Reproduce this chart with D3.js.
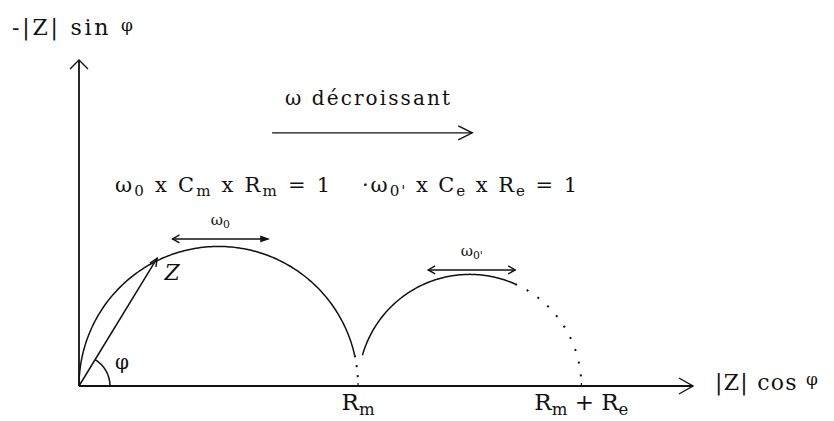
<!DOCTYPE html>
<html>
<head>
<meta charset="utf-8">
<script src="https://cdn.jsdelivr.net/npm/d3@7"></script>
<style>
  body { margin: 0; background: #fff; }
  text { font-family: "DejaVu Serif", "Liberation Serif", serif; fill: #111; }
</style>
</head>
<body>
<svg id="chart" width="834" height="421"></svg>
<script>
// values, in units of Rm
var Rm = 1,
	Re = 0.8;

var xTickValues = [Rm, Rm + Re];
var xTickLabels = [
	[["R"], ["m", "sub"]],
	[["R"], ["m", "sub"], [" + R"], ["e", "sub"]]
];

// semicircles: centre, radius, solid part and dotted part (degrees)
var arcCentres = [Rm / 2, Rm + Re / 2];
var arcRadii = [Rm / 2, Re / 2];
var arcSolid = [[180, 12.7], [164, 66]];
var arcDotted = [[12.7, 0], [66, 0]];

// ω0 markers on top of each arc
var omegaFrom = [0.335, 1.251];
var omegaTo = [0.677, 1.563];
var omegaHeight = [0.527, 0.416];
var omegaLabels = [[["ω"], ["0", "sub"]], [["ω"], ["0'", "sub"]]];

// impedance vector Z
var zPoint = [0.28, 0.458];

// "ω décroissant" arrow
var sweepFrom = 0.692,
	sweepTo = 1.409,
	sweepHeight = 0.907;

var eq1 = [["ω"], ["0", "sub"], [" x C"], ["m", "sub"], [" x R"], ["m", "sub"], [" = 1"]];
var eq2 = [["·ω"], ["0'", "sub"], [" x C"], ["e", "sub"], [" x R"], ["e", "sub"], [" = 1"]];

var svg = d3.select("#chart");

var x = d3.scaleLinear().domain([0, 2.2]).range([79, 693]);
var y = d3.scaleLinear().domain([0, 1.18]).range([386, 386 - 1.18 * 279.1]);

function arrowHead(g, tx, ty, angle, len, half, filled) {
	var c = Math.cos(angle), s = Math.sin(angle);
	var bx = tx - c * len, by = ty - s * len;
	var p = d3.path();
	p.moveTo(bx - s * half, by + c * half);
	p.lineTo(tx, ty);
	p.lineTo(bx + s * half, by - c * half);
	if (filled) p.closePath();
	g.append("path")
		.attr("d", p.toString())
		.attr("fill", filled ? "#111" : "none")
		.attr("stroke", "#111")
		.attr("stroke-width", 1.4);
}

function richText(g, segs, px, py, size, anchor, len) {
	var t = g.append("text")
		.attr("x", px)
		.attr("y", py)
		.attr("font-size", size)
		.attr("text-anchor", anchor || "start");
	if (len) t.attr("textLength", len).attr("lengthAdjust", "spacing");
	var shift = 0;
	segs.forEach(function (s) {
		var target = s[1] === "sub" ? Math.round(size * 0.2) : 0;
		var ts = t.append("tspan")
			.attr("dy", target - shift)
			.text(s[0]);
		if (s[1] === "sub") ts.attr("font-size", size * 0.72);
		shift = target;
	});
	return t;
}

// axes
svg.append("line")
	.attr("x1", x(0)).attr("y1", y(0))
	.attr("x2", x(2.2)).attr("y2", y(0))
	.attr("stroke", "#111").attr("stroke-width", 1.8);
arrowHead(svg, x(2.2), y(0), 0, 14, 8, false);

svg.append("line")
	.attr("x1", x(0)).attr("y1", y(0))
	.attr("x2", x(0)).attr("y2", y(1.168))
	.attr("stroke", "#111").attr("stroke-width", 1.8);
arrowHead(svg, x(0), y(1.168), -Math.PI / 2, 9, 9, false);

// semicircles
var line = d3.line()
	.x(function (d) { return x(d[0]); })
	.y(function (d) { return y(d[1]); });

function arcPoints(i, range) {
	var a0 = range[0], a1 = range[1];
	var n = Math.max(2, Math.ceil(Math.abs(a0 - a1)));
	return d3.range(n + 1).map(function (k) {
		var a = (a0 + (a1 - a0) * k / n) * Math.PI / 180;
		return [arcCentres[i] + arcRadii[i] * Math.cos(a), arcRadii[i] * Math.sin(a)];
	});
}

arcCentres.forEach(function (c, i) {
	svg.append("path")
		.attr("d", line(arcPoints(i, arcSolid[i])))
		.attr("fill", "none")
		.attr("stroke", "#111")
		.attr("stroke-width", 1.5);
	svg.append("path")
		.attr("d", line(arcPoints(i, arcDotted[i])))
		.attr("fill", "none")
		.attr("stroke", "#111")
		.attr("stroke-width", 2)
		.attr("stroke-dasharray", i === 0 ? "2 8" : "2 11");
});

// ω0 markers
omegaFrom.forEach(function (f, i) {
	svg.append("line")
		.attr("x1", x(f)).attr("y1", y(omegaHeight[i]))
		.attr("x2", x(omegaTo[i])).attr("y2", y(omegaHeight[i]))
		.attr("stroke", "#111").attr("stroke-width", 1.5);
	arrowHead(svg, x(f), y(omegaHeight[i]), Math.PI, 7, 4, false);
	arrowHead(svg, x(omegaTo[i]), y(omegaHeight[i]), 0, 7, i === 0 ? 2.5 : 4, i === 0);
	richText(svg, omegaLabels[i], x((f + omegaTo[i]) / 2), y(omegaHeight[i]) - 14, 15, "middle");
});

// impedance vector
svg.append("line")
	.attr("x1", x(0)).attr("y1", y(0))
	.attr("x2", x(zPoint[0])).attr("y2", y(zPoint[1]))
	.attr("stroke", "#111").attr("stroke-width", 1.5);
var zAngle = Math.atan2(y(zPoint[1]) - y(0), x(zPoint[0]) - x(0));
arrowHead(svg, x(zPoint[0]), y(zPoint[1]), zAngle, 8, 3.5, false);

svg.append("text")
	.attr("x", x(zPoint[0]) + 15)
	.attr("y", y(zPoint[1]) + 22)
	.attr("font-size", 22)
	.attr("font-style", "italic")
	.attr("text-anchor", "middle")
	.text("Z");

// angle φ
var phiArc = d3.arc()
	.innerRadius(31)
	.outerRadius(31)
	.startAngle(Math.PI / 2 + zAngle)
	.endAngle(Math.PI / 2);
svg.append("path")
	.attr("transform", "translate(" + x(0) + "," + y(0) + ")")
	.attr("d", phiArc())
	.attr("fill", "none")
	.attr("stroke", "#111")
	.attr("stroke-width", 1.5);
svg.append("text")
	.attr("x", x(0) + 43)
	.attr("y", y(0) - 17)
	.attr("font-size", 20)
	.attr("text-anchor", "middle")
	.text("φ");

// x tick labels
xTickValues.forEach(function (v, i) {
	svg.append("line")
		.attr("x1", x(v)).attr("y1", y(0))
		.attr("x2", x(v)).attr("y2", y(0) - 3)
		.attr("stroke", "#111").attr("stroke-width", 1.2);
	richText(svg, xTickLabels[i], x(v), y(0) + 24, 23, "middle");
});

// axis titles
var yTitle = svg.append("text")
	.attr("x", 12).attr("y", 35)
	.attr("font-size", 22)
	.attr("textLength", 121).attr("lengthAdjust", "spacing");
yTitle.append("tspan").text("-|Z| sin ");
yTitle.append("tspan").attr("font-size", 17).attr("dy", -4).text("φ");

var xTitle = svg.append("text")
	.attr("x", 715).attr("y", 390)
	.attr("font-size", 22)
	.attr("textLength", 103).attr("lengthAdjust", "spacing");
xTitle.append("tspan").text("|Z| cos ");
xTitle.append("tspan").attr("font-size", 17).attr("dy", -5).text("φ");

// ω décroissant
svg.append("text")
	.attr("x", 285).attr("y", 105)
	.attr("font-size", 20)
	.attr("textLength", 165).attr("lengthAdjust", "spacing")
	.text("ω décroissant");
svg.append("line")
	.attr("x1", x(sweepFrom)).attr("y1", y(sweepHeight))
	.attr("x2", x(sweepTo)).attr("y2", y(sweepHeight))
	.attr("stroke", "#111").attr("stroke-width", 1.1);
arrowHead(svg, x(sweepTo), y(sweepHeight), 0, 14, 7, false);

// equations
richText(svg, eq1, 115, 192, 21, "start", 215);
richText(svg, eq2, 362, 192, 21, "start", 215);
</script>
</body>
</html>
